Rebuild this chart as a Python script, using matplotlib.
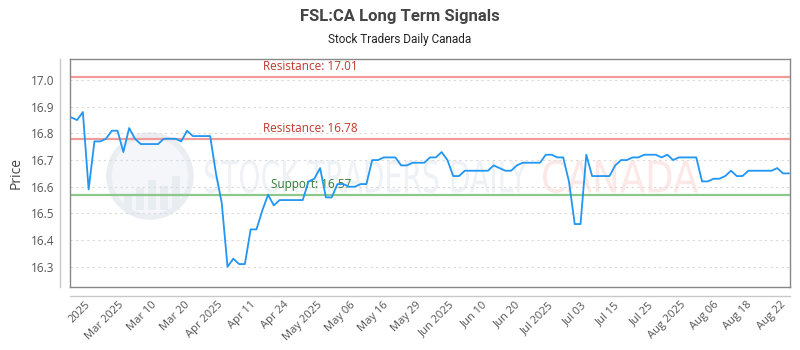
import matplotlib
matplotlib.use("Agg")
import matplotlib.pyplot as plt
import numpy as np
from matplotlib.textpath import TextPath
from matplotlib.patches import PathPatch, Circle, Rectangle
from matplotlib.transforms import Affine2D, IdentityTransform, blended_transform_factory
from matplotlib.font_manager import FontProperties
from matplotlib.lines import Line2D

# ---------------- data ----------------
prices = [
    16.86, 16.85, 16.88, 16.59, 16.77, 16.77, 16.78, 16.81, 16.81, 16.73,
    16.82, 16.78, 16.76, 16.76, 16.76, 16.76, 16.78, 16.78, 16.78, 16.77,
    16.81, 16.79, 16.79, 16.79, 16.79,
    16.65, 16.54, 16.30, 16.33, 16.31, 16.31, 16.44, 16.44, 16.51, 16.57,
    16.53, 16.55, 16.55, 16.55, 16.55, 16.55, 16.62, 16.63, 16.67, 16.56,
    16.56, 16.61, 16.61, 16.60, 16.60,
    16.61, 16.61, 16.70, 16.70, 16.71, 16.71, 16.71, 16.68, 16.68, 16.69,
    16.69, 16.69, 16.71, 16.71, 16.73, 16.70, 16.64, 16.64, 16.66, 16.66,
    16.66, 16.66, 16.66, 16.68,
    16.67, 16.66, 16.66, 16.68, 16.69, 16.69, 16.69, 16.69, 16.72, 16.72,
    16.71, 16.71, 16.62, 16.46, 16.46, 16.72, 16.64, 16.64, 16.64, 16.64,
    16.68, 16.70, 16.70, 16.71, 16.71,
    16.72, 16.72, 16.72, 16.71, 16.72, 16.70, 16.71, 16.71, 16.71, 16.71,
    16.62, 16.62, 16.63, 16.63, 16.64, 16.66, 16.64, 16.64, 16.66, 16.66,
    16.66, 16.66, 16.66, 16.67, 16.65, 16.65,
]
xtick_labels = ["2025", "Mar 2025", "Mar 10", "Mar 20", "Apr 2025", "Apr 11",
                "Apr 24", "May 2025", "May 06", "May 16", "May 29", "Jun 2025",
                "Jun 10", "Jun 20", "Jul 2025", "Jul 03", "Jul 15", "Jul 25",
                "Aug 2025", "Aug 06", "Aug 18", "Aug 22"]
resistance_levels = [17.01, 16.78]
support_levels = [16.57]
title = "FSL:CA Long Term Signals"
subtitle = "Stock Traders Daily Canada"

# ---------------- figure ----------------
W, H = 800, 350
fig = plt.figure(figsize=(8, 3.5), dpi=100)
L, R, T, B = 70, 790, 59, 287
ax = fig.add_axes([L / W, 1 - B / H, (R - L) / W, (B - T) / H])
ax.set_facecolor("white")

n = len(prices)
x = np.arange(n)

# watermark (pixel coords)
def wm_text(text, x0, x1, ytop, ybot, color):
    tp = TextPath((0, 0), text, size=10,
                  prop=FontProperties(family="DejaVu Sans", weight="normal"))
    ext = tp.get_extents()
    sx = (x1 - x0) / ext.width
    sy = (ybot - ytop) / ext.height
    tr = Affine2D().translate(-ext.x0, -ext.y0).scale(sx, sy).translate(x0, H - ybot)
    p = PathPatch(tr.transform_path(tp), transform=IdentityTransform(),
                  fc=color, ec="none", zorder=0.5)
    ax.add_patch(p)

circ = Circle((150, H - 176), 41, transform=IdentityTransform(),
              fc="#f4f6f9", ec="#eaeef3", lw=4, zorder=0.4)
ax.add_patch(circ)
for bx, bh in [(128, 14), (140, 22), (152, 30), (164, 24), (176, 34)]:
    ax.add_patch(Rectangle((bx - 4, H - 210), 8, bh, transform=IdentityTransform(),
                           fc="#e8edf2", ec="none", zorder=0.45))
wm_text("STOCK TRADERS DAILY", 205, 527, 160, 193, "#eef1f5")
wm_text("CANADA", 543, 698, 160, 193, "#fde8e8")

# grid
ax.set_ylim(16.224, 17.079)
ax.set_xlim(-0.22, n - 1 + 0.2)
yt = np.round(np.arange(16.3, 17.05, 0.1), 1)
ax.set_yticks(yt)
ax.set_yticklabels([f"{v:.1f}" for v in yt])
ax.grid(axis="y", color="#d9d9d9", linestyle=(0, (2, 3)), lw=0.8)
ax.grid(axis="x", visible=False)
ax.set_axisbelow(True)

# levels
btr = blended_transform_factory(ax.transAxes, ax.transData)
for lv in resistance_levels:
    ax.axhline(lv, color="#f29b9b", lw=1.6, zorder=2)
    ax.annotate(f"Resistance: {lv:.2f}", xy=(0.268, lv), xycoords=btr,
                xytext=(0, 3), textcoords="offset points", va="bottom", ha="left",
                color="#c0392b", fontsize=8.5, family="Open Sans", zorder=3)
for lv in support_levels:
    ax.axhline(lv, color="#8cc88c", lw=1.6, zorder=2)
    ax.annotate(f"Support: {lv:.2f}", xy=(0.279, lv), xycoords=btr,
                xytext=(0, 3), textcoords="offset points", va="bottom", ha="left",
                color="#2e7d32", fontsize=8.5, family="Open Sans", zorder=3)

# price line
ax.plot(x, prices, color="#2196f3", lw=1.3, zorder=5)

# ticks
xt = np.linspace(3.7, n - 1 - 0.2, len(xtick_labels))
ax.set_xticks(xt)
ax.set_xticklabels(xtick_labels, rotation=45, ha="right", fontsize=8,
                   family="Open Sans", color="#555555")
for lab in ax.get_yticklabels():
    lab.set_fontsize(8.5)
    lab.set_family("Open Sans")
    lab.set_color("#555555")
ax.tick_params(axis="both", length=0)
ax.tick_params(axis="y", pad=11)
ax.tick_params(axis="x", pad=9)

for s in ax.spines.values():
    s.set_color("#888888")
    s.set_linewidth(1)

# offset axis lines
fig.add_artist(Line2D([60 / W, 60 / W], [1 - B / H, 1 - T / H], color="#c8c8c8", lw=1))
fig.add_artist(Line2D([L / W, R / W], [1 - 296 / H, 1 - 296 / H], color="#c8c8c8", lw=1))

fig.text(16 / W, 1 - 173 / H, "Price", rotation=90, ha="center", va="center",
         fontsize=10, color="#444444", family="Open Sans")
fig.text(0.5, 1 - 16 / H, title, ha="center", va="center", fontsize=12,
         weight="bold", color="#444444", family="Roboto")
fig.text(0.5, 1 - 40 / H, subtitle, ha="center", va="center", fontsize=8.5,
         color="#222222", family="Roboto")

fig.savefig("out.png", dpi=100)
